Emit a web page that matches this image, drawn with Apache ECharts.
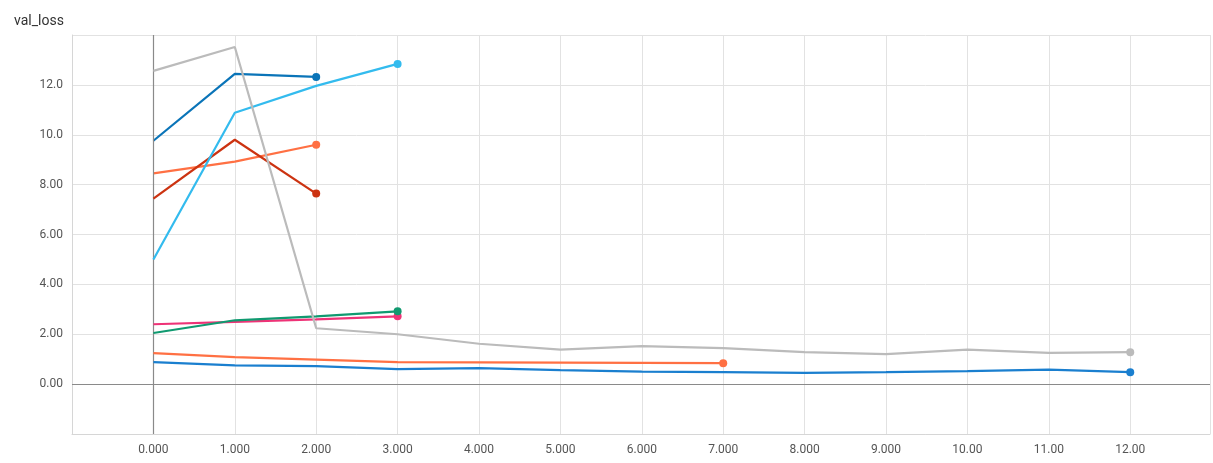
<!DOCTYPE html>
<html>
<head>
<meta charset="utf-8">
<script src="https://cdn.jsdelivr.net/npm/echarts@6/dist/echarts.min.js"></script>
<style>
html,body{margin:0;padding:0;background:#fff;}
#c{width:1213px;height:463px;}
</style>
</head>
<body>
<div id="c"></div>
<script>
const title = "val_loss";
const steps = [0,1,2,3,4,5,6,7,8,9,10,11,12];
const xTicks = [0,1,2,3,4,5,6,7,8,9,10,11,12];
const yTicks = [0,2,4,6,8,10,12];

const runOrangeHigh = [8.45, 8.92, 9.6];
const runBlueHigh   = [9.76, 12.44, 12.32];
const runRed        = [7.44, 9.8, 7.64];
const runCyan       = [5.0, 10.88, 11.96, 12.84];
const runPink       = [2.4, 2.5, 2.6, 2.72];
const runTeal       = [2.05, 2.56, 2.72, 2.92];
const runGray       = [12.56, 13.52, 2.24, 2.0, 1.62, 1.38, 1.52, 1.44, 1.28, 1.2, 1.38, 1.25, 1.28];
const runOrangeLow  = [1.24, 1.08, 0.98, 0.88, 0.87, 0.86, 0.85, 0.84];
const runBlueLow    = [0.88, 0.75, 0.72, 0.6, 0.64, 0.56, 0.5, 0.48, 0.45, 0.48, 0.52, 0.58, 0.48];

const runs = [
  {name:'orange_high', data:runOrangeHigh, color:'#ff7043'},
  {name:'blue_high', data:runBlueHigh, color:'#0a74b8'},
  {name:'red', data:runRed, color:'#cc3311'},
  {name:'cyan', data:runCyan, color:'#33bbee'},
  {name:'pink', data:runPink, color:'#ee3377'},
  {name:'teal', data:runTeal, color:'#109a70'},
  {name:'gray', data:runGray, color:'#bbbbbb'},
  {name:'orange_low', data:runOrangeLow, color:'#ff7043'},
  {name:'blue_low', data:runBlueLow, color:'#1a7fcf'}
];

const chart = echarts.init(document.getElementById('c'), null, {renderer:'canvas'});

const series = runs.map((r, i) => {
  const last = r.data.length - 1;
  return {
    name: r.name,
    type: 'line',
    data: r.data.map((v, k) => [steps[k], v]),
    showSymbol: true,
    showAllSymbol: true,
    symbol: (val, params) => params.dataIndex === last ? 'circle' : 'none',
    symbolSize: 8,
    itemStyle: {color: r.color},
    lineStyle: {color: r.color, width: 2.2},
    z: 3 + i,
    silent: true,
    animation: false
  };
});

series.push({
  type: 'line',
  data: [],
  silent: true,
  markLine: {
    silent: true,
    symbol: ['none','none'],
    label: {show:false},
    lineStyle: {color:'#8a8a8a', width:1.2, type:'solid'},
    data: [{xAxis: 0}, {yAxis: 0}],
    animation: false
  },
  z: 2
});

chart.setOption({
  animation: false,
  backgroundColor: '#fff',
  title: {
    text: title,
    left: 9,
    top: 9,
    textStyle: {fontFamily:'Roboto, sans-serif', fontSize: 14, fontWeight:'normal', color:'#333'}
  },
  grid: {left: 72, right: 0, top: 35, bottom: 29, containLabel: false},
  xAxis: {
    type: 'value',
    min: -1, max: 12.98, interval: 1,
    axisLine: {show: true, onZero: false, lineStyle: {color:'#d6d6d6'}},
    axisTick: {show: false},
    splitLine: {show: true, lineStyle: {color:'#e2e2e2', width:1}},
    axisLabel: {
      margin: 10,
      fontFamily:'Roboto, sans-serif', fontSize: 12, color:'#555',
      formatter: v => xTicks.includes(v) ? v.toPrecision(4) : ''
    }
  },
  yAxis: {
    type: 'value',
    min: -2, max: 14, interval: 2,
    axisLine: {show: true, onZero: false, lineStyle: {color:'#d6d6d6'}},
    axisTick: {show: false},
    splitLine: {show: true, lineStyle: {color:'#e2e2e2', width:1}},
    axisLabel: {
      margin: 9,
      fontFamily:'Roboto, sans-serif', fontSize: 12, color:'#555',
      formatter: v => yTicks.includes(v) ? v.toPrecision(3) : ''
    }
  },
  series: series
});
</script>
</body>
</html>
